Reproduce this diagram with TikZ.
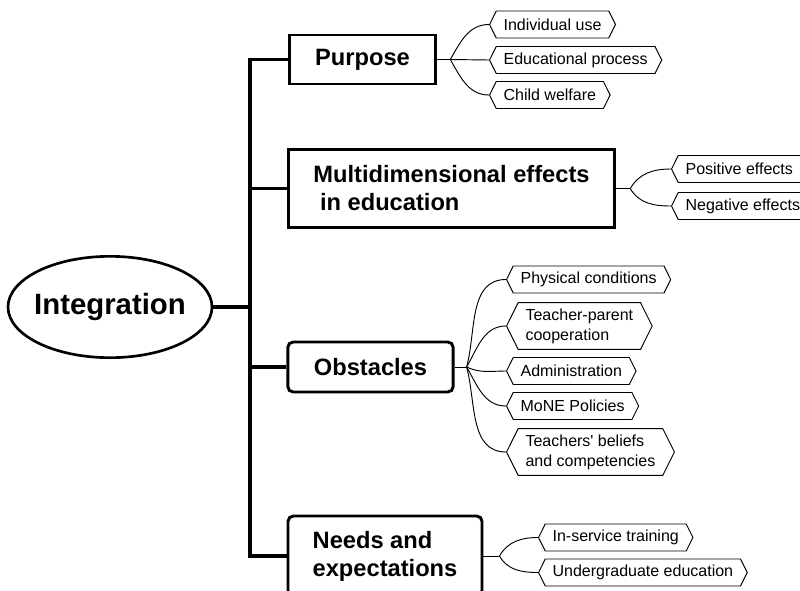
\documentclass[tikz,border=0pt]{standalone}
\usepackage{fontspec}
\setmainfont{Liberation Sans}
\usetikzlibrary{positioning,shapes.geometric,shapes.symbols,calc}

\begin{document}
\begin{tikzpicture}[
      x=0.75pt, y=-0.75pt,
      topic/.style={rectangle, draw, line width=2.2pt, align=left, inner sep=0pt,
                    font=\fontsize{17.75}{21}\selectfont\bfseries},
      leaf/.style={signal, signal to=west and east, signal pointer angle=127, draw,
                   line width=0.7pt, align=left, inner xsep=5.5pt, inner ysep=4.5pt,
                   minimum height=20.25pt, anchor=west, font=\fontsize{12}{15}\selectfont},
      trunk/.style={line width=2.6pt},
      twig/.style={line width=0.7pt},
    ]
    \useasboundingbox (0,0) rectangle (800,590);

    \node[ellipse, draw, line width=2pt, inner xsep=-12pt, inner ysep=0pt,
          minimum width=153pt, minimum height=76pt,
          font=\fontsize{22}{26}\selectfont\bfseries] (root) at (110,307) {Integration};

    \node[topic, minimum width=110pt, minimum height=36.75pt] (purpose) at (362.5,59.5) {Purpose};
    \node[topic, minimum width=245pt, minimum height=59pt] (multi) at (451.5,188.5)
          {Multidimensional effects\\\hspace*{.28em}in education};
    \node[topic, rounded corners=4pt, minimum width=124pt, minimum height=37.5pt] (obst) at (370.5,367) {Obstacles};
    \node[topic, rounded corners=4pt, minimum width=145.5pt, minimum height=60pt] (needs) at (385,556)
          {Needs and\\expectations};

    % trunk
    \coordinate (tr) at (250,0);
    \draw[trunk] (purpose.west) -- (purpose.west -| tr) -- (needs.west -| tr) -- (needs.west);
    \draw[trunk] (multi.west -| tr) -- (multi.west);
    \draw[trunk] (obst.west -| tr) -- (obst.west);
    \draw[trunk] (root) -- (root -| tr);

    % purpose
    \coordinate (hp) at ($(purpose.east)+(13,0)$);
    \node[leaf] (p1) at (489,24.5) {Individual use};
    \node[leaf] (p2) at (489,60) {Educational process};
    \node[leaf] (p3) at (489,95) {Child welfare};
    \draw[twig] (purpose) -- (hp);
    \draw[twig] (hp) to[out=60, in=180] (p1.west);
    \draw[twig] (hp) -- (p2.west);
    \draw[twig] (hp) to[out=-60, in=180] (p3.west);

    % multidimensional effects
    \coordinate (hm) at ($(multi.east)+(14,0)$);
    \node[leaf] (m1) at (671,169) {Positive effects};
    \node[leaf] (m2) at (671,206) {Negative effects};
    \draw[twig] (multi) -- (hm);
    \draw[twig] (hm) to[out=60, in=180] (m1.west);
    \draw[twig] (hm) to[out=-60, in=180] (m2.west);

    % obstacles
    \coordinate (ho) at ($(obst.east)+(12,0)$);
    \node[leaf] (o1) at (506,279.5) {Physical conditions};
    \node[leaf] (o2) at (506,326) {Teacher-parent\\cooperation};
    \node[leaf] (o3) at (506,371) {Administration};
    \node[leaf] (o4) at (506,406) {MoNE Policies};
    \node[leaf] (o5) at (506,452) {Teachers\textquotesingle\ beliefs\\and competencies};
    \draw[twig] (obst) -- (ho);
    \draw[twig] (ho) to[out=75, in=180] (o1.west);
    \draw[twig] (ho) to[out=60, in=180] (o2.west);
    \draw[twig] (ho) to[out=-25, in=180] (o3.west);
    \draw[twig] (ho) to[out=-60, in=180] (o4.west);
    \draw[twig] (ho) to[out=-75, in=180] (o5.west);

    % needs and expectations
    \coordinate (hn) at ($(needs.east)+(16,0)$);
    \node[leaf] (n1) at (538,537.5) {In-service training};
    \node[leaf] (n2) at (538,572.5) {Undergraduate education};
    \draw[twig] (needs) -- (hn);
    \draw[twig] (hn) to[out=60, in=180] (n1.west);
    \draw[twig] (hn) to[out=-60, in=180] (n2.west);
  \end{tikzpicture}
\end{document}
